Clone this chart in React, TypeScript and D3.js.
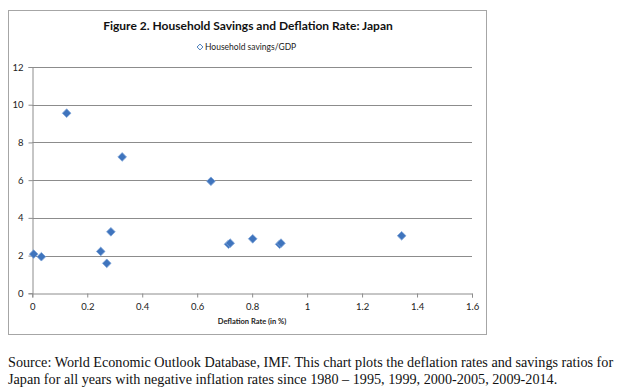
import React, {useEffect, useRef} from 'react';
import * as d3 from 'd3';

// deflation rate (in %) and household savings/GDP, one pair per year
const deflationRate: number[] = [0.005, 0.033, 0.125, 0.249, 0.271, 0.286, 0.327, 0.65, 0.714, 0.72, 0.802, 0.9, 0.905, 1.344];
const savingsRatio: number[] = [2.08, 1.94, 9.55, 2.22, 1.59, 3.26, 7.23, 5.94, 2.6, 2.66, 2.89, 2.6, 2.66, 3.05];
const xTicks: number[] = [0, 0.2, 0.4, 0.6, 0.8, 1, 1.2, 1.4, 1.6];
const yTicks: number[] = [0, 2, 4, 6, 8, 10, 12];

const App = () => {
  const ref = useRef<SVGSVGElement>(null);

  useEffect(() => {
    const svg = d3.select(ref.current);
    svg.selectAll('*').remove();

    const font = 'Lato, "Open Sans", sans-serif';
    const x = d3.scaleLinear().domain([0, 1.6]).range([32.3, 472]);
    const y = d3.scaleLinear().domain([0, 12]).range([293.3, 67]);

    // chart frame
    svg.append('rect')
      .attr('x', 8.5).attr('y', 10.5)
      .attr('width', 478).attr('height', 324)
      .attr('fill', '#fff').attr('stroke', '#a6a6a6');

    svg.append('text')
      .attr('x', 248).attr('y', 30)
      .attr('text-anchor', 'middle')
      .attr('font-family', font).attr('font-weight', 'bold').attr('font-size', 12)
      .attr('fill', '#111')
      .text('Figure 2. Household Savings and Deflation Rate: Japan');

    // legend
    const diamond = d3.symbol().type(d3.symbolDiamond2);
    svg.append('path')
      .attr('d', diamond.size(22)())
      .attr('transform', 'translate(200,47)')
      .attr('fill', '#fff').attr('stroke', '#4a7ebb').attr('stroke-width', 1);
    svg.append('text')
      .attr('x', 205).attr('y', 50)
      .attr('font-family', font).attr('font-size', 8.5).attr('fill', '#222')
      .text('Household savings/GDP');

    // gridlines
    svg.append('g').selectAll('line')
      .data(yTicks.filter(t => t > 0))
      .enter().append('line')
      .attr('x1', x(0)).attr('x2', x(1.6))
      .attr('y1', d => Math.round(y(d)) + 0.5).attr('y2', d => Math.round(y(d)) + 0.5)
      .attr('stroke', '#8c8c8c').attr('stroke-width', 1);

    const yAxis = svg.append('g')
      .attr('transform', `translate(${Math.round(x(0)) + 0.5},0)`)
      .call(d3.axisLeft(y).tickValues(yTicks).tickSize(4).tickFormat(d3.format('d')));
    const xAxis = svg.append('g')
      .attr('transform', `translate(0,${Math.round(y(0)) + 0.5})`)
      .call(d3.axisBottom(x).tickValues(xTicks).tickSize(4).tickFormat(d => String(+d)));

    [xAxis, yAxis].forEach(a => {
      a.select('.domain').attr('stroke', '#8c8c8c');
      a.selectAll('.tick line').attr('stroke', '#8c8c8c');
      a.selectAll('.tick text')
        .attr('font-family', font).attr('font-size', 9.5).attr('fill', '#222');
    });
    xAxis.selectAll('.tick text').attr('dy', '1.05em');
    yAxis.selectAll('.tick text').attr('x', -9);

    svg.append('text')
      .attr('x', 252).attr('y', 324)
      .attr('text-anchor', 'middle')
      .attr('font-family', font).attr('font-weight', 'bold').attr('font-size', 7.5)
      .attr('fill', '#222')
      .text('Deflation Rate (in %)');

    // points
    const pts = deflationRate.map((d, i) => ({rate: d, savings: savingsRatio[i]}));
    svg.append('g').selectAll('path')
      .data(pts)
      .enter().append('path')
      .attr('d', diamond.size(48)())
      .attr('transform', d => `translate(${x(d.rate)},${y(d.savings)})`)
      .attr('fill', '#3f74bd').attr('stroke', '#7fa5d8').attr('stroke-width', 0.8);

    // source note
    const note = svg.append('text')
      .attr('font-family', '"Liberation Serif", "Times New Roman", serif')
      .attr('font-size', 14.2).attr('fill', '#111');
    note.append('tspan').attr('x', 8).attr('y', 367)
      .text('Source: World Economic Outlook Database, IMF. This chart plots the deflation rates and savings ratios for');
    note.append('tspan').attr('x', 8).attr('y', 384)
      .text('Japan for all years with negative inflation rates since 1980 \u2013 1995, 1999, 2000-2005, 2009-2014.');
  }, []);

  return (
    <svg ref={ref} width={624} height={392}
      style={{position: 'absolute', left: 0, top: 0, background: '#fff'}} />
  );
};

export default App;
